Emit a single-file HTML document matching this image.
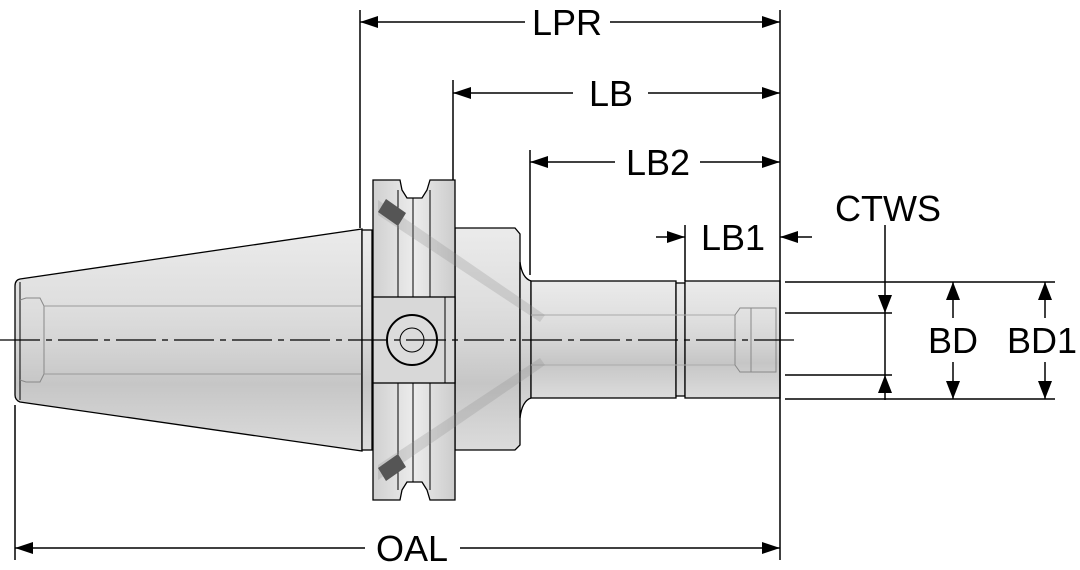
<!DOCTYPE html>
<html><head><meta charset="utf-8"><style>
html,body{margin:0;padding:0;background:#fff;}
svg{display:block}
text{font-family:"Liberation Sans",sans-serif;font-size:36px;fill:#000}
</style></head><body>
<svg width="1080" height="570" viewBox="0 0 1080 570" xmlns="http://www.w3.org/2000/svg">
<defs>
<linearGradient id="g" x1="0" y1="0" x2="0" y2="1">
<stop offset="0" stop-color="#ebebeb"/><stop offset="0.35" stop-color="#dedede"/>
<stop offset="0.5" stop-color="#d6d6d6"/><stop offset="0.7" stop-color="#c6c6c6"/><stop offset="1" stop-color="#dcdcdc"/>
</linearGradient>
<linearGradient id="gh" x1="0" y1="0" x2="1" y2="0">
<stop offset="0" stop-color="#d0d0d0"/><stop offset="0.5" stop-color="#ececec"/><stop offset="1" stop-color="#cccccc"/>
</linearGradient>
</defs>
<g stroke="#000" stroke-width="1.3">
<path d="M20,279 L362,229 L362,451 L20,402 Q15,400 15,395 L15,286 Q15,280 20,279Z" fill="url(#g)"/>
<line x1="20" y1="282" x2="20" y2="400" stroke-width="1"/>
<path d="M20,300 L26,298 L40,298 L44,306 L44,374 L40,382 L26,382 L20,380" fill="none" stroke="#888" stroke-width="1"/>
<line x1="44" y1="306" x2="362" y2="306" stroke="#999" stroke-width="1"/>
<line x1="44" y1="374" x2="362" y2="374" stroke="#999" stroke-width="1"/>
<rect x="362" y="230" width="10" height="220" fill="url(#g)"/>
<path d="M455,228 L515,228 L520,234 L520,445 L515,450 L455,450Z" fill="url(#g)"/>
<path d="M520,262 Q522,278 531,281 L531,398 Q522,401 520,418Z" fill="url(#g)"/>
<rect x="531" y="281" width="145" height="117" fill="url(#g)"/>
<rect x="676" y="283" width="9" height="113" fill="url(#g)"/>
<rect x="685" y="281" width="95" height="117" fill="url(#g)"/>
<line x1="531" y1="315" x2="735" y2="315" stroke="#aaa" stroke-width="1"/>
<line x1="531" y1="365" x2="735" y2="365" stroke="#aaa" stroke-width="1"/>
<path d="M735,315 L740,308 L776,308 L776,372 L740,372 L735,365Z" fill="none" stroke="#888" stroke-width="1"/>
<line x1="751" y1="308" x2="751" y2="372" stroke="#888" stroke-width="1"/>
<path d="M373,180 L400,180 L402,190 L407,198 L422,198 L427,190 L430,180 L455,180 L455,500 L430,500 L427,490 L422,482 L407,482 L402,490 L400,500 L373,500Z" fill="url(#gh)"/>
<line x1="398" y1="190" x2="398" y2="490" stroke-width="1"/>
<line x1="413" y1="198" x2="413" y2="482" stroke-width="1"/>
<line x1="430" y1="190" x2="430" y2="490" stroke-width="1"/>
<rect x="373" y="297" width="82" height="86" fill="#d8d8d8"/>
<line x1="445" y1="297" x2="445" y2="383" stroke-width="1"/>
<circle cx="412" cy="340" r="25" fill="#dcdcdc" stroke-width="2"/>
<circle cx="412" cy="340" r="12" fill="none" stroke-width="1"/>
<path d="M378,200 L545,315 L540,322 L378,215Z" fill="#888" opacity="0.25" stroke="none"/>
<path d="M378,480 L545,365 L540,358 L378,465Z" fill="#888" opacity="0.25" stroke="none"/>
<path d="M378,212 L386,199 L406,213 L398,226Z" fill="#555" stroke="none"/>
<path d="M378,468 L386,481 L406,467 L398,454Z" fill="#555" stroke="none"/>
</g>
<line x1="0" y1="340" x2="795" y2="340" stroke="#000" stroke-width="1.2" stroke-dasharray="40,6,6,6"/>
<g stroke="#000" stroke-width="1.5" fill="none">
<line x1="360" y1="10" x2="360" y2="228"/>
<line x1="780" y1="10" x2="780" y2="560"/>
<line x1="453" y1="80" x2="453" y2="180"/>
<line x1="530" y1="150" x2="530" y2="275"/>
<line x1="685" y1="225" x2="685" y2="281"/>
<line x1="15" y1="405" x2="15" y2="560"/>
<line x1="360" y1="22" x2="525" y2="22"/><line x1="610" y1="22" x2="780" y2="22"/>
<line x1="453" y1="93" x2="573" y2="93"/><line x1="648" y1="93" x2="780" y2="93"/>
<line x1="530" y1="162" x2="615" y2="162"/><line x1="700" y1="162" x2="780" y2="162"/>
<line x1="15" y1="548" x2="365" y2="548"/><line x1="460" y1="548" x2="780" y2="548"/>
<line x1="656" y1="237" x2="685" y2="237"/><line x1="780" y1="237" x2="812" y2="237"/>
<line x1="785" y1="282" x2="1055" y2="282"/><line x1="785" y1="399" x2="1055" y2="399"/>
<line x1="785" y1="313" x2="892" y2="313"/><line x1="785" y1="375" x2="892" y2="375"/>
<line x1="885" y1="225" x2="885" y2="400"/>
<line x1="953" y1="282" x2="953" y2="318"/><line x1="953" y1="362" x2="953" y2="399"/>
<line x1="1045" y1="282" x2="1045" y2="318"/><line x1="1045" y1="362" x2="1045" y2="399"/>
</g>
<g fill="#000">
<polygon points="360,22 378,16 378,28"/><polygon points="780,22 762,16 762,28"/>
<polygon points="453,93 471,87 471,99"/><polygon points="780,93 762,87 762,99"/>
<polygon points="530,162 548,156 548,168"/><polygon points="780,162 762,156 762,168"/>
<polygon points="15,548 33,542 33,554"/><polygon points="780,548 762,542 762,554"/>
<polygon points="685,237 667,231 667,243"/><polygon points="780,237 798,231 798,243"/>
<polygon points="885,313 878,295 892,295"/><polygon points="885,375 878,393 892,393"/>
<polygon points="953,282 946,300 960,300"/><polygon points="953,399 946,381 960,381"/>
<polygon points="1045,282 1038,300 1052,300"/><polygon points="1045,399 1038,381 1052,381"/>
</g>
<text x="567" y="35" text-anchor="middle">LPR</text>
<text x="611" y="106" text-anchor="middle">LB</text>
<text x="658" y="175" text-anchor="middle">LB2</text>
<text x="733" y="250" text-anchor="middle">LB1</text>
<text x="888" y="221" text-anchor="middle">CTWS</text>
<text x="953" y="353" text-anchor="middle">BD</text>
<text x="1042" y="353" text-anchor="middle">BD1</text>
<text x="412" y="561" text-anchor="middle">OAL</text>
</svg>
</body></html>
